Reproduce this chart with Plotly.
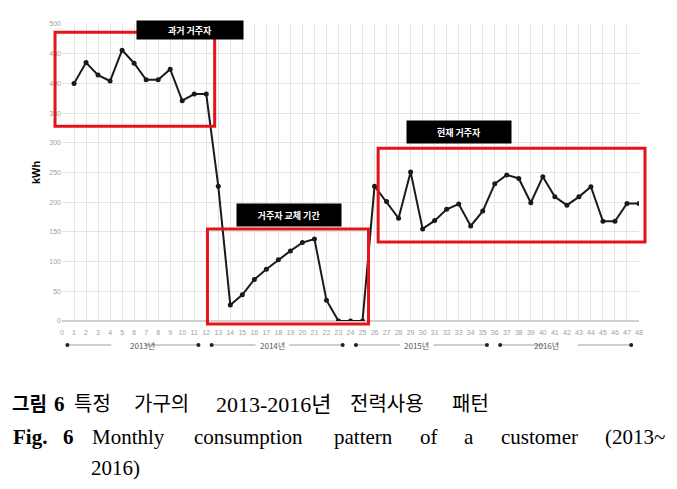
import plotly.graph_objects as go

# monthly consumption, months 1..48 (Jan 2013 .. Dec 2016)
months = list(range(1, 49))
kwh = [400, 435, 414, 404, 456, 434, 406, 406, 424, 371, 382, 382,
       227, 27, 44, 70, 87, 103, 118, 132, 138, 35, 0, 0,
       0, 227, 201, 173, 251, 155, 169, 188, 197, 160, 185, 231,
       246, 240, 199, 243, 209, 195, 209, 226, 168, 168, 198, 198]
years = ["2013년", "2014년", "2015년", "2016년"]
regions = ["과거 거주자", "거주자 교체 기간", "현재 거주자"]

# the page body has an 8px margin, so the figure is drawn 8px in from the corner
O = 8
W, H = 677 - O, 489 - O
L, R, T, B = 62 - O, 38, 24 - O, 168
PW, PH = W - L - R, H - T - B
XMAX, YMAX = 48, 500


def px2x(px):
    return (px - O - L) / PW


def py2y(py):
    return (H - B - (py - O)) / PH


fig = go.Figure()
fig.add_trace(go.Scatter(
    x=months, y=kwh, mode="lines+markers",
    line=dict(color="#1a1a1a", width=2),
    marker=dict(color="#1a1a1a", size=5),
    showlegend=False,
))

RED = "#e3141c"
# highlight boxes (month span, kWh span) and their label boxes in page pixels
boxes = [((-0.58, 12.7), (328, 486), (136, 20, 104, 16)),
         ((12.1, 25.5), (-5, 155), (289, 215, 102, 20)),
         ((26.3, 48.5), (133, 291), (512, 132, 102, 20))]
for (bx, by, lab), text in zip(boxes, regions):
    fig.add_shape(type="rect", xref="paper", yref="paper",
                  x0=bx[0] / XMAX, x1=bx[1] / XMAX,
                  y0=by[0] / YMAX, y1=by[1] / YMAX,
                  line=dict(color=RED, width=3))
    cx, cy, w, h = lab
    fig.add_annotation(xref="paper", yref="paper", x=px2x(cx), y=py2y(cy),
                       text=f"<b>{text}</b>", showarrow=False,
                       bgcolor="black", width=w, height=h,
                       font=dict(color="white", size=9,
                                 family="Noto Sans CJK KR"))

# year brackets under the month axis
yb = py2y(345)
for i, yr in enumerate(years):
    a, b = 12 * i + 0.45, 12 * i + 11.35
    c = 12 * i + 5.5
    for s, e in ((a, c - 1.4), (c + 1.4, b)):
        fig.add_shape(type="line", xref="paper", yref="paper",
                      x0=s / XMAX, x1=e / XMAX, y0=yb, y1=yb,
                      line=dict(color="#a0a0a0", width=1.2))
    for d in (a, b):
        fig.add_shape(type="circle", xref="paper", yref="paper",
                      x0=d / XMAX - 0.0035, x1=d / XMAX + 0.0035,
                      y0=yb - 0.0068, y1=yb + 0.0068,
                      fillcolor="#222", line=dict(width=0))
    fig.add_annotation(xref="paper", yref="paper", x=c / XMAX, y=yb,
                       yanchor="middle", text=yr, showarrow=False,
                       font=dict(color="#555", size=8,
                                 family="Noto Sans CJK KR"))

# caption, word by word: text, left edge px, centre px, size
SERIF = "Liberation Serif, Noto Sans CJK KR"
cap = [
    ("<b>그림</b>", 10, 404, 19), ("<b>6</b>", 52, 404, 21),
    ("특정", 72, 404, 20), ("가구의", 132, 404, 20),
    ("2013-2016년", 214, 404, 22), ("전력사용", 348, 404, 20),
    ("패턴", 450, 404, 20),
    ("<b>Fig.</b>", 11, 437, 21), ("<b>6</b>", 61, 437, 21),
    ("Monthly", 90, 437, 21), ("consumption", 192, 437, 21),
    ("pattern", 332, 437, 21), ("of", 418, 437, 21),
    ("a", 462, 437, 21), ("customer", 499, 437, 21),
    ("(2013~", 603, 437, 21),
    ("2016)", 89, 468, 21),
]
for text, x0, yc, sz in cap:
    fig.add_annotation(xref="paper", yref="paper", x=px2x(x0), y=py2y(yc),
                       xanchor="left", yanchor="middle", text=text,
                       showarrow=False,
                       font=dict(color="black", size=sz, family=SERIF))

fig.update_layout(
    width=W, height=H,
    margin=dict(l=L, r=R, t=T, b=B),
    paper_bgcolor="white", plot_bgcolor="white",
    xaxis=dict(range=[0, XMAX], dtick=1, tick0=0, showgrid=True,
               gridcolor="#e4e4e4", gridwidth=1, zeroline=False,
               showline=False, ticks="", ticklabelstandoff=6,
               tickfont=dict(size=7, color="#a0a0a0", family="Arial")),
    yaxis=dict(range=[0, YMAX], dtick=50, showgrid=True,
               gridcolor="#e4e4e4", gridwidth=1, zeroline=True,
               zerolinecolor="#d0d0d0", showline=False, ticks="",
               tickfont=dict(size=7, color="#a0a0a0", family="Arial"),
               title=dict(text="<b>kWh</b>", standoff=6,
                          font=dict(size=11, color="black",
                                    family="Liberation Sans"))),
)

fig.write_html("out.html")
